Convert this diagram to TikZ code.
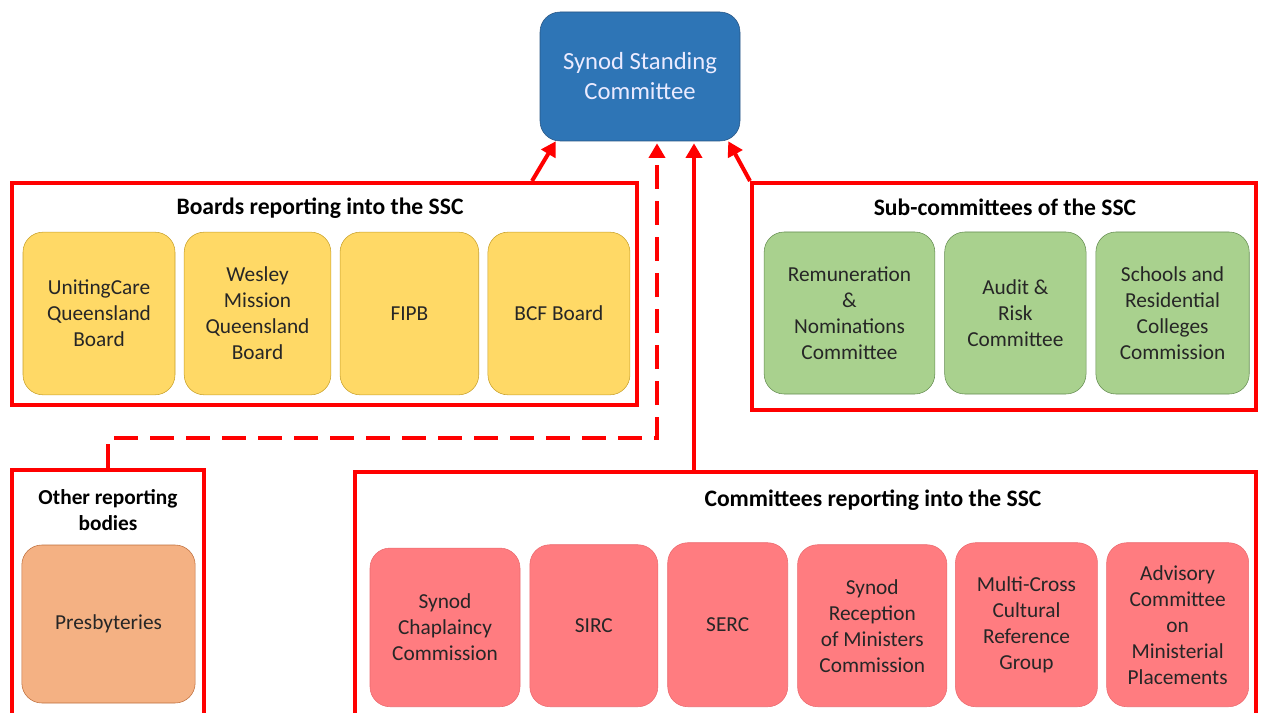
\documentclass[tikz,border=0pt]{standalone}
\usepackage{fontspec}
\setmainfont{Carlito}
\usetikzlibrary{positioning, calc, arrows.meta}

\definecolor{sscblue}{RGB}{46,117,182}
\definecolor{sscedge}{RGB}{40,84,130}
\definecolor{boardfill}{RGB}{255,217,102}
\definecolor{boardedge}{RGB}{200,160,40}
\definecolor{subfill}{RGB}{169,209,142}
\definecolor{subedge}{RGB}{100,140,80}
\definecolor{otherfill}{RGB}{244,177,131}
\definecolor{otheredge}{RGB}{190,110,60}
\definecolor{comfill}{RGB}{255,124,128}
\definecolor{comedge}{RGB}{235,105,110}
\definecolor{linered}{RGB}{255,0,0}

\begin{document}
\begin{tikzpicture}[x=0.75pt, y=-0.75pt,
    % Define a custom style for boxes
    mybox/.style={
        draw,
        rounded corners=15pt,
        align=center,
        inner sep=2pt,
        font=\fontsize{16}{19.5}\selectfont,
        text=black!85
    },
    board/.style={mybox, fill=boardfill, draw=boardedge, minimum height=122pt},
    subcom/.style={mybox, fill=subfill, draw=subedge, minimum height=121.5pt},
    other/.style={mybox, fill=otherfill, draw=otheredge},
    com/.style={mybox, fill=comfill, draw=comedge, anchor=south},
    % Frames round each group
    frame/.style={draw=linered, line width=3pt, inner sep=0pt},
    grouptitle/.style={align=center, font=\fontsize{17.7}{19.5}\selectfont\bfseries},
    % Arrows into the SSC
    arrow/.style={draw=linered, line width=3pt, -{Triangle[length=11pt,width=12pt]}},
    dasharrow/.style={arrow, dash pattern=on 18pt off 9pt}
]
\useasboundingbox (0,0) rectangle (1261,713);

% Top committee
\node[mybox, fill=sscblue, draw=sscedge, text=white!92!blue, minimum width=150pt, minimum height=96.75pt,
      font=\fontsize{18.5}{22.5}\selectfont] (ssc) at (640,76.5) {Synod Standing\\Committee};

% Frames
\node[frame, minimum width=468.75pt, minimum height=166.5pt] (boards) at (324.5,294) {};
\node[frame, minimum width=378pt, minimum height=170.25pt] (subs) at (1004,296.5) {};
\node[frame, minimum width=144pt, minimum height=187.5pt] (others) at (108,595) {};
\node[frame, minimum width=675.75pt, minimum height=186pt] (coms) at (805.5,596) {};

% Titles
\node[grouptitle] (boardstitle) at (320,208) {Boards reporting into the SSC};
\node[grouptitle] (substitle) at (1005,207) {Sub-committees of the SSC};
\node[grouptitle, font=\fontsize{16}{19.5}\selectfont\bfseries] (otherstitle) at (108,510) {Other reporting\\bodies};
\node[grouptitle] (comstitle) at (873,500) {Committees reporting into the SSC};

% Boards
\node[board, minimum width=114pt] (ucq) at (99,313.5) {UnitingCare\\Queensland\\Board};
\node[board, minimum width=110pt, right=6.5pt of ucq] (wmq) {Wesley\\Mission\\Queensland\\Board};
\node[board, minimum width=104pt, right=6.5pt of wmq] (fipb) {FIPB};
\node[board, minimum width=106.5pt, right=6.5pt of fipb] (bcf) {BCF Board};

% Sub-committees
\node[subcom, minimum width=128pt] (remnom) at (849.5,313) {Remuneration\\\&\\Nominations\\Committee};
\node[subcom, minimum width=106pt, right=7pt of remnom] (audit) {Audit \&\\Risk\\Committee};
\node[subcom, minimum width=115pt, right=7pt of audit] (schools) {Schools and\\Residential\\Colleges\\Commission};

% Other reporting bodies
\node[other, minimum width=130pt, minimum height=118.5pt] (presb) at (108.5,624) {Presbyteries};

% Committees
\node[com, minimum width=112.5pt, minimum height=119pt] (chap) at (445,707) {Synod\\Chaplaincy\\Commission};
\node[com, minimum width=96pt, minimum height=121.5pt, right=7pt of chap.south east, anchor=south west] (sirc) {SIRC};
\node[com, minimum width=90pt, minimum height=123pt, right=7pt of sirc.south east, anchor=south west] (serc) {SERC};
\node[com, minimum width=112pt, minimum height=121.5pt, right=7pt of serc.south east, anchor=south west] (srmc) {Synod\\Reception\\of Ministers\\Commission};
\node[com, minimum width=106.5pt, minimum height=123pt, right=6pt of srmc.south east, anchor=south west] (mccrg) {Multi-Cross\\Cultural\\Reference\\Group};
\node[com, minimum width=106.5pt, minimum height=123pt, right=6.5pt of mccrg.south east, anchor=south west] (acmp) {Advisory\\Committee\\on\\Ministerial\\Placements};

% Reporting lines
\draw[arrow] ($(boards.north east)+(-107,0)$) -- ($(ssc.south west)+(16,0)$);
\draw[arrow] (subs.north west) -- ($(ssc.south east)+(-12,0)$);
\draw[dasharrow] (others.north) -- ++(0,-30) -| ($(ssc.south)+(17,2)$);
\draw[arrow] (coms.north -| 694,0) -- ($(ssc.south)+(54,2)$);

\end{tikzpicture}
\end{document}
